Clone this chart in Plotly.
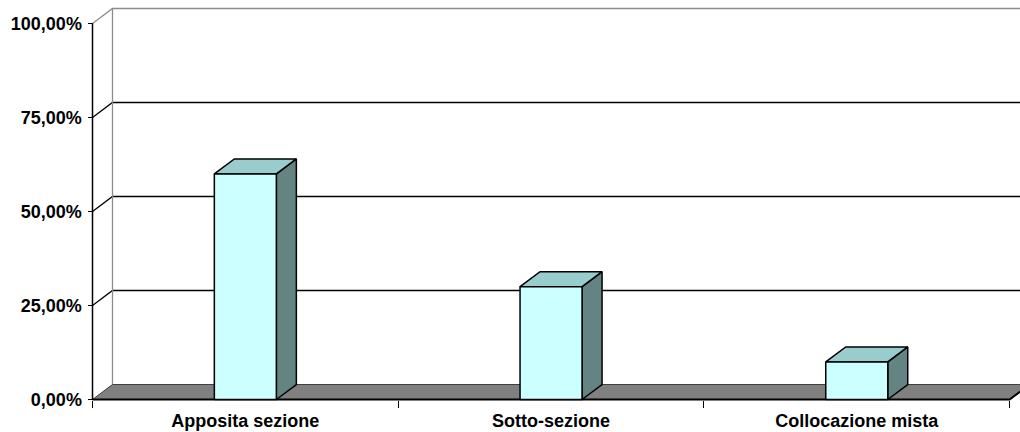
import plotly.graph_objects as go

# Chart data
categories = ["Apposita sezione", "Sotto-sezione", "Collocazione mista"]
values = [0.60, 0.30, 0.10]
y_ticks = [0.0, 0.25, 0.50, 0.75, 1.0]

# Pseudo-3D geometry (in axis units)
W, H = 1020, 432
M_L, M_B = 89, 30
PX_PER_CAT = 305.7          # pixels per category on the front plane
PX_PER_UNIT = 376.0         # pixels per 100% on the front plane
X0_PX, Y0_PX = 92.5, 399.5  # front-plane origin in page pixels
DU = 20 / PX_PER_CAT        # depth offset, horizontal
DV = 15 / PX_PER_UNIT       # depth offset, vertical
BAR_W = 62 / PX_PER_CAT
N = len(categories)
U_MAX = (W - X0_PX) / PX_PER_CAT + 0.2

FRONT = "#CCFFFF"
TOP = "#99CCCC"
SIDE = "#638482"
FLOOR = "#808080"
WALL_EDGE = "#8C8C8C"

fig = go.Figure()


def poly(xs, ys, fill=None, line_color="black", line_width=1.0):
    fig.add_trace(go.Scatter(
        x=xs, y=ys, mode="lines",
        fill="toself" if fill else None,
        fillcolor=fill,
        line=dict(color=line_color, width=line_width),
        hoverinfo="skip", showlegend=False,
    ))


# Back wall gridlines, with their slanted segments on the side wall
for t in y_ticks[1:-1]:
    poly([0, DU, U_MAX], [t, t + DV, t + DV], line_color="black", line_width=1.3)

# Wall edges: top border and side-wall back edge
poly([0, DU, U_MAX], [1, 1 + DV, 1 + DV], line_color=WALL_EDGE, line_width=1.3)
poly([DU, DU], [DV, 1 + DV], line_color=WALL_EDGE, line_width=1.3)

# Floor
poly([0, N, N + DU, DU, 0], [0, 0, DV, DV, 0], fill=FLOOR, line_color="#404040", line_width=1)
poly([0, N, N + DU], [0, 0, DV], line_color="black", line_width=2)

# Front value axis line
poly([0, 0], [0, 1], line_color="black", line_width=1.5)

# Columns: front, top and side faces
for i, v in enumerate(values):
    c = i + 0.5
    l, r = c - BAR_W / 2, c + BAR_W / 2
    poly([r, r + DU, r + DU, r, r], [0, DV, v + DV, v, 0], fill=SIDE, line_width=1.5)
    poly([l, r, r + DU, l + DU, l], [v, v, v + DV, v + DV, v], fill=TOP, line_width=1.5)
    poly([l, r, r, l, l], [0, 0, v, v, 0], fill=FRONT, line_width=1.5)

label_font = dict(family="Liberation Sans, Arial, sans-serif", size=18, color="black", weight="bold")
plot_w = W - M_L
plot_h = H - M_B

fig.update_layout(
    width=W, height=H,
    margin=dict(l=M_L, r=0, t=0, b=M_B, pad=0),
    paper_bgcolor="white", plot_bgcolor="white",
    separators=",.",
    showlegend=False,
    xaxis=dict(
        range=[(M_L - X0_PX) / PX_PER_CAT, (W - X0_PX) / PX_PER_CAT],
        tickmode="array", tickvals=[i + 0.5 for i in range(N)], ticktext=categories,
        ticks="outside", ticklen=0, tickcolor="rgba(0,0,0,0)",
        minor=dict(tickmode="array", tickvals=list(range(N + 1)), ticks="outside",
                   ticklen=7, tickwidth=1, tickcolor="black", showgrid=False),
        showgrid=False, zeroline=False, showline=False,
        tickfont=label_font,
        anchor="free", position=(plot_h - Y0_PX) / plot_h,
        ticklabelstandoff=5,
        fixedrange=True,
    ),
    yaxis=dict(
        range=[-(plot_h - Y0_PX) / PX_PER_UNIT, Y0_PX / PX_PER_UNIT],
        tickmode="array", tickvals=y_ticks, tickformat=".2%",
        ticks="outside", ticklen=5, tickwidth=1, tickcolor="black",
        showgrid=False, zeroline=False, showline=False,
        tickfont=label_font,
        anchor="free", position=(X0_PX - M_L) / plot_w,
        ticklabelstandoff=2,
        fixedrange=True,
    ),
)

fig.write_html("out.html")
